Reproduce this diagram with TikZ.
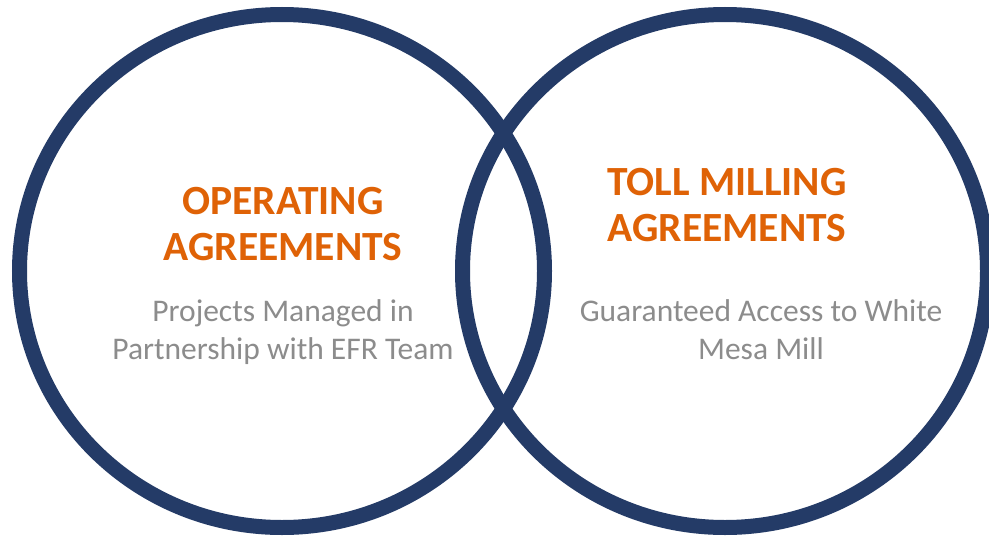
\documentclass[tikz,border=0pt]{standalone}
\usepackage{fontspec}
\setmainfont{Carlito}
\usepackage{tikz}
\usetikzlibrary{shapes.geometric, positioning}
\definecolor{RingNavy}{HTML}{243B67}
\definecolor{TitleOrange}{HTML}{DF6206}
\definecolor{BodyGray}{HTML}{8C8C8C}
\tikzset{
  % Ring styles
  ringshape/.style={ellipse, draw=RingNavy, line width=15pt, minimum width=525pt, minimum height=513pt, inner sep=0pt},
  % Text styles
  titletext/.style={text=TitleOrange, font=\fontsize{41.5}{46}\selectfont\bfseries, align=center, anchor=base, inner sep=0pt},
  bodytext/.style={text=BodyGray, font=\fontsize{31.5}{38}\selectfont, align=center, anchor=base, inner sep=0pt}
}
\begin{document}
\begin{tikzpicture}[x=1pt, y=-1pt]
  \useasboundingbox[fill=white] (0,0) rectangle (989,538);

  % Two overlapping rings
  \node[ringshape] (opring) at (282,271) {};
  \node[ringshape] (tollring) at (725,271) {};

  % Left ring texts
  \node[titletext] (optitle) at (283,260) {OPERATING\\AGREEMENTS};
  \node[bodytext] (opbody) at (283,359) {Projects Managed in\\Partnership with EFR Team};

  % Right ring texts
  \node[titletext] (tolltitle) at (727,241) {TOLL MILLING\\AGREEMENTS};
  \node[bodytext] (tollbody) at (761,359) {Guaranteed Access to White\\Mesa Mill};
\end{tikzpicture}
\end{document}
